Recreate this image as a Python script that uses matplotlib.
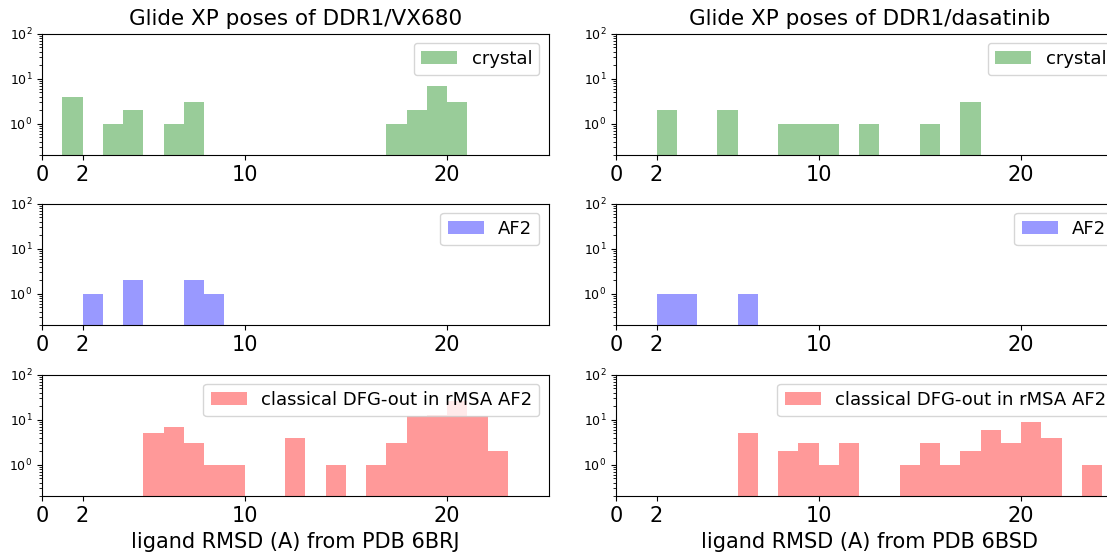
import numpy as np
import matplotlib
matplotlib.use("Agg")
import matplotlib.pyplot as plt

# RMSD bin edges (1 A wide bins from 0 to 25 A)
bin_edges = list(range(0, 26))

# counts per bin, VX680 (reference PDB 6BRJ)
vx680_crystal = [0, 4, 0, 1, 2, 0, 1, 3, 0, 0, 0, 0, 0, 0, 0, 0, 0, 1, 2, 7, 3, 0, 0, 0, 0]
vx680_af2     = [0, 0, 1, 0, 2, 0, 0, 2, 1, 0, 0, 0, 0, 0, 0, 0, 0, 0, 0, 0, 0, 0, 0, 0, 0]
vx680_rmsa    = [0, 0, 0, 0, 0, 5, 7, 3, 1, 1, 0, 0, 4, 0, 1, 0, 1, 3, 12, 13, 26, 12, 2, 0, 0]

# counts per bin, dasatinib (reference PDB 6BSD)
dasa_crystal = [0, 0, 2, 0, 0, 2, 0, 0, 1, 1, 1, 0, 1, 0, 0, 1, 0, 3, 0, 0, 0, 0, 0, 0, 0]
dasa_af2     = [0, 0, 1, 1, 0, 0, 1, 0, 0, 0, 0, 0, 0, 0, 0, 0, 0, 0, 0, 0, 0, 0, 0, 0, 0]
dasa_rmsa    = [0, 0, 0, 0, 0, 0, 5, 0, 2, 3, 1, 3, 0, 0, 1, 3, 1, 2, 6, 3, 9, 4, 0, 1, 0]

titles = ["Glide XP poses of DDR1/VX680", "Glide XP poses of DDR1/dasatinib"]
xlabels = ["ligand RMSD (A) from PDB 6BRJ", "ligand RMSD (A) from PDB 6BSD"]
series_labels = ["crystal", "AF2", "classical DFG-out in rMSA AF2"]
series_colors = ["green", "blue", "red"]
xticks = [0, 2, 10, 20]

columns = [
    [vx680_crystal, vx680_af2, vx680_rmsa],
    [dasa_crystal, dasa_af2, dasa_rmsa],
]

fig = plt.figure(figsize=(11.07, 5.52), dpi=100)

lefts = [0.038, 0.5565]
width = 0.4575
bottoms = [0.719, 0.411, 0.101]
height = 0.220

edges = np.array(bin_edges, dtype=float)
for c, col in enumerate(columns):
    for r, counts in enumerate(col):
        ax = fig.add_axes([lefts[c], bottoms[r], width, height])
        ax.hist(edges[:-1], bins=edges, weights=counts, color=series_colors[r],
                alpha=0.4, label=series_labels[r], log=True)
        ax.set_xlim(0, 25)
        ax.set_ylim(0.2, 100)
        ax.set_xticks(xticks)
        ax.tick_params(axis="x", labelsize=15)
        ax.tick_params(axis="y", labelsize=9)
        ax.legend(loc="upper right", fontsize=13)
        if r == 0:
            ax.set_title(titles[c], fontsize=15.5)
        if r == 2:
            ax.set_xlabel(xlabels[c], fontsize=15)

fig.savefig("out.png", dpi=100)
